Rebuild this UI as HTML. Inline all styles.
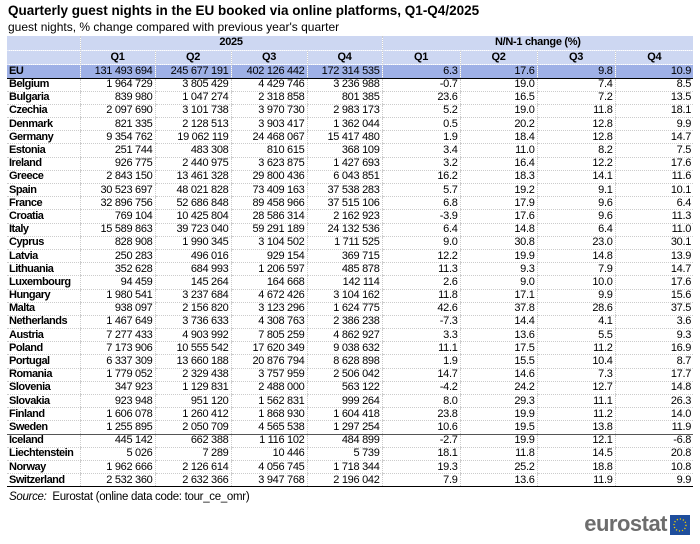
<!DOCTYPE html>
<html><head><style>
body{margin:0;width:700px;height:544px;background:#fff;font-family:"Liberation Sans Narrow","Liberation Sans",sans-serif;position:relative;overflow:hidden}
.t{position:absolute;left:8px;top:3px;font:bold 13.5px "Liberation Sans",sans-serif;color:#000}
.s{position:absolute;left:8px;top:20px;font:12px "Liberation Sans",sans-serif;color:#000}
table{position:absolute;left:7px;top:36px;border-collapse:collapse;table-layout:fixed;width:686px;font-size:11px;letter-spacing:-0.3px}
tr{height:13.2px}
td{padding:0 2px;line-height:11px;border-bottom:1px dotted #ccc;border-left:1px dotted #ccc;text-align:right;white-space:nowrap;overflow:hidden}
td:first-child{text-align:left;font-weight:bold;border-left:none;letter-spacing:-0.5px}
tr.h{height:14px}
tr.h td{background:#cdd7f2;text-align:center;font-weight:bold;border-bottom:1px dotted #e8ecf8}
tr.eu{height:14px}
tr.eu td{background:#9eb0e6;border-bottom:1.5px solid #000}
tr.sep td{border-top:1.5px solid #555}
tr.last td{border-bottom:1.5px solid #000}
.src{position:absolute;left:9px;top:491px;font-size:11.5px;font-family:"Liberation Sans",sans-serif;letter-spacing:-0.3px}
.logo{position:absolute;right:33px;top:511px;font:bold 22px "Liberation Sans",sans-serif;color:#6d6d6d;letter-spacing:-0.5px}
.flag{position:absolute;left:670px;top:515px;width:20px;height:20px;background:#1f4e9c}
</style></head><body>
<div class="t">Quarterly guest nights in the EU booked via online platforms, Q1-Q4/2025</div>
<div class="s">guest nights, % change compared with previous year's quarter</div>
<table>
<colgroup><col style="width:73px"><col style="width:75px"><col style="width:76px"><col style="width:76px"><col style="width:75px"><col style="width:78px"><col style="width:77px"><col style="width:78px"><col style="width:78px"></colgroup>
<tr class="h"><td></td><td colspan="4">2025</td><td colspan="4">N/N-1 change (%)</td></tr>
<tr class="h"><td></td><td>Q1</td><td>Q2</td><td>Q3</td><td>Q4</td><td>Q1</td><td>Q2</td><td>Q3</td><td>Q4</td></tr>
<tr class="eu"><td>EU</td><td>131 493 694</td><td>245 677 191</td><td>402 126 442</td><td>172 314 535</td><td>6.3</td><td>17.6</td><td>9.8</td><td>10.9</td></tr>
<tr><td>Belgium</td><td>1 964 729</td><td>3 805 429</td><td>4 429 746</td><td>3 236 988</td><td>-0.7</td><td>19.0</td><td>7.4</td><td>8.5</td></tr>
<tr><td>Bulgaria</td><td>839 980</td><td>1 047 274</td><td>2 318 858</td><td>801 385</td><td>23.6</td><td>16.5</td><td>7.2</td><td>13.5</td></tr>
<tr><td>Czechia</td><td>2 097 690</td><td>3 101 738</td><td>3 970 730</td><td>2 983 173</td><td>5.2</td><td>19.0</td><td>11.8</td><td>18.1</td></tr>
<tr><td>Denmark</td><td>821 335</td><td>2 128 513</td><td>3 903 417</td><td>1 362 044</td><td>0.5</td><td>20.2</td><td>12.8</td><td>9.9</td></tr>
<tr><td>Germany</td><td>9 354 762</td><td>19 062 119</td><td>24 468 067</td><td>15 417 480</td><td>1.9</td><td>18.4</td><td>12.8</td><td>14.7</td></tr>
<tr><td>Estonia</td><td>251 744</td><td>483 308</td><td>810 615</td><td>368 109</td><td>3.4</td><td>11.0</td><td>8.2</td><td>7.5</td></tr>
<tr><td>Ireland</td><td>926 775</td><td>2 440 975</td><td>3 623 875</td><td>1 427 693</td><td>3.2</td><td>16.4</td><td>12.2</td><td>17.6</td></tr>
<tr><td>Greece</td><td>2 843 150</td><td>13 461 328</td><td>29 800 436</td><td>6 043 851</td><td>16.2</td><td>18.3</td><td>14.1</td><td>11.6</td></tr>
<tr><td>Spain</td><td>30 523 697</td><td>48 021 828</td><td>73 409 163</td><td>37 538 283</td><td>5.7</td><td>19.2</td><td>9.1</td><td>10.1</td></tr>
<tr><td>France</td><td>32 896 756</td><td>52 686 848</td><td>89 458 966</td><td>37 515 106</td><td>6.8</td><td>17.9</td><td>9.6</td><td>6.4</td></tr>
<tr><td>Croatia</td><td>769 104</td><td>10 425 804</td><td>28 586 314</td><td>2 162 923</td><td>-3.9</td><td>17.6</td><td>9.6</td><td>11.3</td></tr>
<tr><td>Italy</td><td>15 589 863</td><td>39 723 040</td><td>59 291 189</td><td>24 132 536</td><td>6.4</td><td>14.8</td><td>6.4</td><td>11.0</td></tr>
<tr><td>Cyprus</td><td>828 908</td><td>1 990 345</td><td>3 104 502</td><td>1 711 525</td><td>9.0</td><td>30.8</td><td>23.0</td><td>30.1</td></tr>
<tr><td>Latvia</td><td>250 283</td><td>496 016</td><td>929 154</td><td>369 715</td><td>12.2</td><td>19.9</td><td>14.8</td><td>13.9</td></tr>
<tr><td>Lithuania</td><td>352 628</td><td>684 993</td><td>1 206 597</td><td>485 878</td><td>11.3</td><td>9.3</td><td>7.9</td><td>14.7</td></tr>
<tr><td>Luxembourg</td><td>94 459</td><td>145 264</td><td>164 668</td><td>142 114</td><td>2.6</td><td>9.0</td><td>10.0</td><td>17.6</td></tr>
<tr><td>Hungary</td><td>1 980 541</td><td>3 237 684</td><td>4 672 426</td><td>3 104 162</td><td>11.8</td><td>17.1</td><td>9.9</td><td>15.6</td></tr>
<tr><td>Malta</td><td>938 097</td><td>2 156 820</td><td>3 123 296</td><td>1 624 775</td><td>42.6</td><td>37.8</td><td>28.6</td><td>37.5</td></tr>
<tr><td>Netherlands</td><td>1 467 649</td><td>3 736 633</td><td>4 308 763</td><td>2 386 238</td><td>-7.3</td><td>14.4</td><td>4.1</td><td>3.6</td></tr>
<tr><td>Austria</td><td>7 277 433</td><td>4 903 992</td><td>7 805 259</td><td>4 862 927</td><td>3.3</td><td>13.6</td><td>5.5</td><td>9.3</td></tr>
<tr><td>Poland</td><td>7 173 906</td><td>10 555 542</td><td>17 620 349</td><td>9 038 632</td><td>11.1</td><td>17.5</td><td>11.2</td><td>16.9</td></tr>
<tr><td>Portugal</td><td>6 337 309</td><td>13 660 188</td><td>20 876 794</td><td>8 628 898</td><td>1.9</td><td>15.5</td><td>10.4</td><td>8.7</td></tr>
<tr><td>Romania</td><td>1 779 052</td><td>2 329 438</td><td>3 757 959</td><td>2 506 042</td><td>14.7</td><td>14.6</td><td>7.3</td><td>17.7</td></tr>
<tr><td>Slovenia</td><td>347 923</td><td>1 129 831</td><td>2 488 000</td><td>563 122</td><td>-4.2</td><td>24.2</td><td>12.7</td><td>14.8</td></tr>
<tr><td>Slovakia</td><td>923 948</td><td>951 120</td><td>1 562 831</td><td>999 264</td><td>8.0</td><td>29.3</td><td>11.1</td><td>26.3</td></tr>
<tr><td>Finland</td><td>1 606 078</td><td>1 260 412</td><td>1 868 930</td><td>1 604 418</td><td>23.8</td><td>19.9</td><td>11.2</td><td>14.0</td></tr>
<tr><td>Sweden</td><td>1 255 895</td><td>2 050 709</td><td>4 565 538</td><td>1 297 254</td><td>10.6</td><td>19.5</td><td>13.8</td><td>11.9</td></tr>
<tr class="sep"><td>Iceland</td><td>445 142</td><td>662 388</td><td>1 116 102</td><td>484 899</td><td>-2.7</td><td>19.9</td><td>12.1</td><td>-6.8</td></tr>
<tr><td>Liechtenstein</td><td>5 026</td><td>7 289</td><td>10 446</td><td>5 739</td><td>18.1</td><td>11.8</td><td>14.5</td><td>20.8</td></tr>
<tr><td>Norway</td><td>1 962 666</td><td>2 126 614</td><td>4 056 745</td><td>1 718 344</td><td>19.3</td><td>25.2</td><td>18.8</td><td>10.8</td></tr>
<tr class="last"><td>Switzerland</td><td>2 532 360</td><td>2 632 366</td><td>3 947 768</td><td>2 196 042</td><td>7.9</td><td>13.6</td><td>11.9</td><td>9.9</td></tr>
</table>
<div class="src"><i>Source:</i>&nbsp; Eurostat (online data code: tour_ce_omr)</div>
<div class="logo">eurostat</div>
<div class="flag"><svg width="20" height="20"><circle cx="10" cy="10" r="6" fill="none" stroke="#f5d000" stroke-width="1.3" stroke-dasharray="1.2 1.9"/></svg></div>
</body></html>
